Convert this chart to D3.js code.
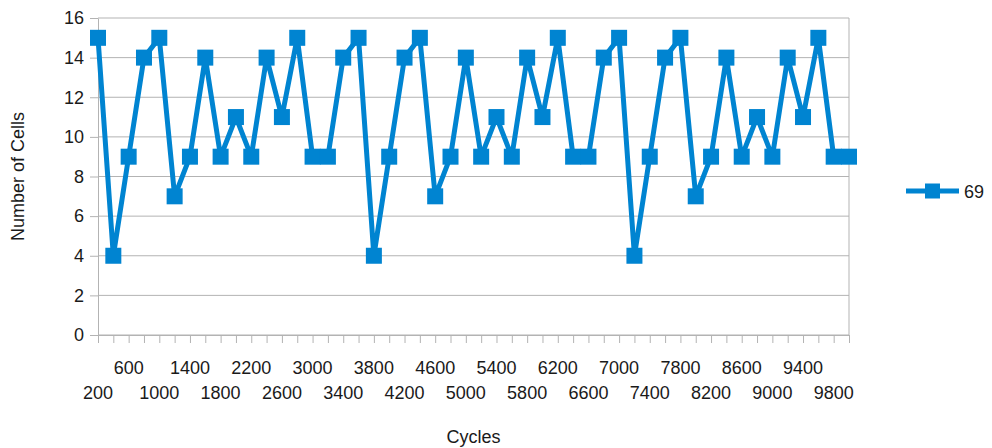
<!DOCTYPE html>
<html>
<head>
<meta charset="utf-8">
<script src="https://cdnjs.cloudflare.com/ajax/libs/d3/7.8.5/d3.min.js"></script>
<style>
  html, body { margin: 0; padding: 0; background: #fff; }
  svg { display: block; font-family: "Liberation Sans", Arial, sans-serif; }
  .grid line { stroke: #b3b3b3; stroke-width: 1; }
  .axis path, .axis line { stroke: #b3b3b3; }
  .axis text { fill: #1a1a1a; font-size: 18px; }
</style>
</head>
<body>
<svg id="chart" width="992" height="448"></svg>
<script>
// DATA
var cycles = [200, 400, 600, 800, 1000, 1200, 1400, 1600, 1800, 2000,
   2200, 2400, 2600, 2800, 3000, 3200, 3400, 3600, 3800, 4000,
   4200, 4400, 4600, 4800, 5000, 5200, 5400, 5600, 5800, 6000,
   6200, 6400, 6600, 6800, 7000, 7200, 7400, 7600, 7800, 8000,
   8200, 8400, 8600, 8800, 9000, 9200, 9400, 9600, 9800, 10000];

var cellCounts = [15, 4, 9, 14, 15, 7, 9, 14, 9, 11,
   9, 14, 11, 15, 9, 9, 14, 15, 4, 9,
   14, 15, 7, 9, 14, 9, 11, 9, 14, 11,
   15, 9, 9, 14, 15, 4, 9, 14, 15, 7,
   9, 14, 9, 11, 9, 14, 11, 15, 9, 9];

var xTickLabels = [200, 600, 1000, 1400, 1800, 2200, 2600, 3000, 3400, 3800, 4200, 4600, 5000,
   5400, 5800, 6200, 6600, 7000, 7400, 7800, 8200, 8600, 9000, 9400, 9800];

var yTicks = [0, 2, 4, 6, 8, 10, 12, 14, 16];

var seriesName = '69';

// LAYOUT
var svg = d3.select('#chart');
var plot = {left: 98, right: 849, top: 18, bottom: 335};
var color = '#0084d1';

var x = d3.scalePoint()
   .domain(cycles)
   .range([plot.left, plot.right]);

var y = d3.scaleLinear()
   .domain([0, 16])
   .range([plot.bottom, plot.top]);

// gridlines
svg.append('g')
   .attr('class', 'grid')
   .selectAll('line')
   .data(yTicks)
   .enter().append('line')
   .attr('x1', plot.left)
   .attr('x2', plot.right)
   .attr('y1', function (d) { return y(d); })
   .attr('y2', function (d) { return y(d); });

// right border of plot
svg.append('line')
   .attr('x1', plot.right).attr('x2', plot.right)
   .attr('y1', plot.top).attr('y2', plot.bottom)
   .attr('stroke', '#b3b3b3');

// y axis
var yAxis = svg.append('g')
   .attr('class', 'axis axis--y')
   .attr('transform', 'translate(' + plot.left + ',0)')
   .call(d3.axisLeft(y).tickValues(yTicks).tickSize(8).tickPadding(6).tickSizeOuter(0));

// x axis: ticks at every point, labels on every other one in two rows
var xAxis = svg.append('g')
   .attr('class', 'axis axis--x')
   .attr('transform', 'translate(0,' + plot.bottom + ')')
   .call(d3.axisBottom(x).tickSize(8).tickSizeOuter(0).tickFormat(''));

var labelGroup = svg.append('g').attr('class', 'axis');
labelGroup.selectAll('text')
   .data(xTickLabels)
   .enter().append('text')
   .attr('x', function (d) { return x(d); })
   .attr('y', function (d, i) { return i % 2 === 0 ? 399 : 374; })
   .attr('text-anchor', 'middle')
   .text(function (d) { return d; });

// series line
var line = d3.line()
   .x(function (d, i) { return x(cycles[i]); })
   .y(function (d) { return y(d); });

svg.append('path')
   .datum(cellCounts)
   .attr('fill', 'none')
   .attr('stroke', color)
   .attr('stroke-width', 5)
   .attr('stroke-linejoin', 'round')
   .attr('d', line);

var markerSize = 16;
svg.append('g')
   .selectAll('rect')
   .data(cellCounts)
   .enter().append('rect')
   .attr('x', function (d, i) { return x(cycles[i]) - markerSize / 2; })
   .attr('y', function (d) { return y(d) - markerSize / 2; })
   .attr('width', markerSize)
   .attr('height', markerSize)
   .attr('fill', color);

// axis titles
svg.append('text')
   .attr('transform', 'translate(24,' + ((plot.top + plot.bottom) / 2) + ') rotate(-90)')
   .attr('text-anchor', 'middle')
   .attr('fill', '#1a1a1a')
   .style('font-size', '18px')
   .text('Number of Cells');

svg.append('text')
   .attr('x', (plot.left + plot.right) / 2)
   .attr('y', 443)
   .attr('text-anchor', 'middle')
   .attr('fill', '#1a1a1a')
   .style('font-size', '18px')
   .text('Cycles');

// legend
var legend = svg.append('g').attr('transform', 'translate(906,191)');
legend.append('line')
   .attr('x1', 0).attr('x2', 53)
   .attr('stroke', color)
   .attr('stroke-width', 5);
legend.append('rect')
   .attr('x', 19).attr('y', -7.5)
   .attr('width', 15).attr('height', 15)
   .attr('fill', color);
legend.append('text')
   .attr('x', 58)
   .attr('y', 7)
   .attr('fill', '#1a1a1a')
   .style('font-size', '18px')
   .text(seriesName);
</script>
</body>
</html>
